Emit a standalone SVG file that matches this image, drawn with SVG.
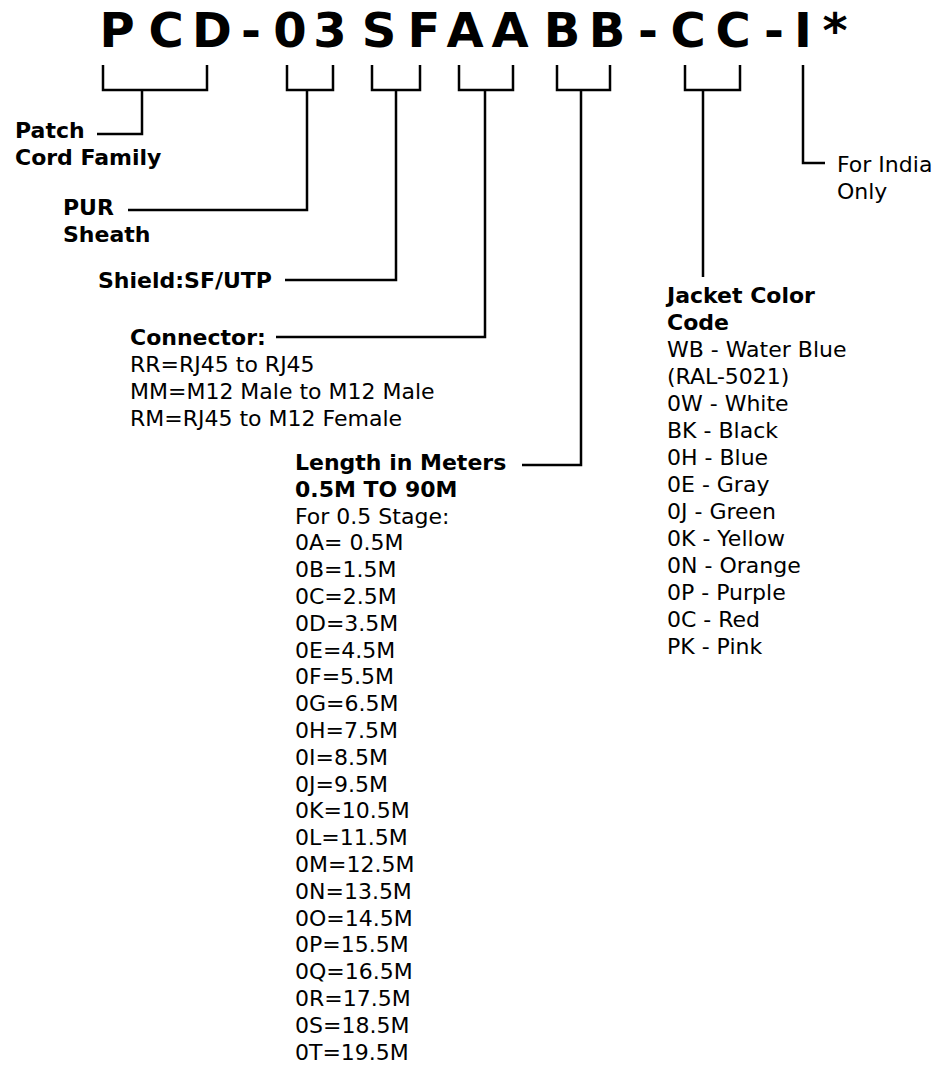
<svg xmlns="http://www.w3.org/2000/svg" width="940" height="1066" viewBox="0 0 940 1066">
<style>
text{font-family:"DejaVu Sans","Liberation Sans",sans-serif;fill:#000;}
.title{font-size:48px;font-weight:bold;}
.b{font-size:22px;font-weight:bold;}
.r{font-size:22px;}
.ln{fill:none;stroke:#000;stroke-width:2.5;}
</style>
<rect width="940" height="1066" fill="#fff"/>
<g id="title">
<text class="title" y="47" text-anchor="middle" x="117 166 212 251 290 330 379 424 465 510 562 607 648 688 733 774 803 835">PCD-03SFAABB-CC-I*</text>
</g>
<g id="connectors">
<path class="ln" d="M103,65 V90 H207 V65 M142,90 V134 H97"/>
<path class="ln" d="M287,65 V90 H333 V65 M307,90 V210 H128"/>
<path class="ln" d="M372,65 V90 H420 V65 M396,90 V280 H285"/>
<path class="ln" d="M459,65 V90 H513 V65 M485,90 V337 H276"/>
<path class="ln" d="M557,65 V90 H610 V65 M581,90 V465 H522"/>
<path class="ln" d="M685,65 V90 H740 V65 M703,90 V277"/>
<path class="ln" d="M803,65 V163 H825"/>
</g>
<g id="patch-cord-family">
<text class="b" x="15" y="138">Patch</text>
<text class="b" x="15" y="165">Cord Family</text>
</g>
<g id="pur-sheath">
<text class="b" x="63" y="215">PUR</text>
<text class="b" x="63" y="242">Sheath</text>
</g>
<g id="shield">
<text class="b" x="98" y="288">Shield:SF/UTP</text>
</g>
<g id="connector">
<text class="b" x="130" y="345">Connector:</text>
<text class="r" x="130" y="372">RR=RJ45 to RJ45</text>
<text class="r" x="130" y="399">MM=M12 Male to M12 Male</text>
<text class="r" x="130" y="426">RM=RJ45 to M12 Female</text>
</g>
<g id="length">
<text class="b" x="295" y="470">Length in Meters</text>
<text class="b" x="295" y="497">0.5M TO 90M</text>
<text class="r" x="295">
<tspan x="295" y="523.6">For 0.5 Stage:</tspan>
<tspan x="295" y="550.4">0A= 0.5M</tspan>
<tspan x="295" y="577.2">0B=1.5M</tspan>
<tspan x="295" y="604">0C=2.5M</tspan>
<tspan x="295" y="630.8">0D=3.5M</tspan>
<tspan x="295" y="657.6">0E=4.5M</tspan>
<tspan x="295" y="684.4">0F=5.5M</tspan>
<tspan x="295" y="711.2">0G=6.5M</tspan>
<tspan x="295" y="738">0H=7.5M</tspan>
<tspan x="295" y="764.8">0I=8.5M</tspan>
<tspan x="295" y="791.6">0J=9.5M</tspan>
<tspan x="295" y="818.4">0K=10.5M</tspan>
<tspan x="295" y="845.2">0L=11.5M</tspan>
<tspan x="295" y="872">0M=12.5M</tspan>
<tspan x="295" y="898.8">0N=13.5M</tspan>
<tspan x="295" y="925.6">0O=14.5M</tspan>
<tspan x="295" y="952.4">0P=15.5M</tspan>
<tspan x="295" y="979.2">0Q=16.5M</tspan>
<tspan x="295" y="1006">0R=17.5M</tspan>
<tspan x="295" y="1032.8">0S=18.5M</tspan>
<tspan x="295" y="1059.6">0T=19.5M</tspan>
</text>
</g>
<g id="jacket-color">
<text class="b" x="667" y="303">Jacket Color</text>
<text class="b" x="667" y="330">Code</text>
<text class="r">
<tspan x="667" y="357">WB - Water Blue</tspan>
<tspan x="667" y="384">(RAL-5021)</tspan>
<tspan x="667" y="411">0W - White</tspan>
<tspan x="667" y="438">BK - Black</tspan>
<tspan x="667" y="465">0H - Blue</tspan>
<tspan x="667" y="492">0E - Gray</tspan>
<tspan x="667" y="519">0J - Green</tspan>
<tspan x="667" y="546">0K - Yellow</tspan>
<tspan x="667" y="573">0N - Orange</tspan>
<tspan x="667" y="600">0P - Purple</tspan>
<tspan x="667" y="627">0C - Red</tspan>
<tspan x="667" y="654">PK - Pink</tspan>
</text>
</g>
<g id="india">
<text class="r" x="837" y="172">For India</text>
<text class="r" x="837" y="199">Only</text>
</g>
</svg>
